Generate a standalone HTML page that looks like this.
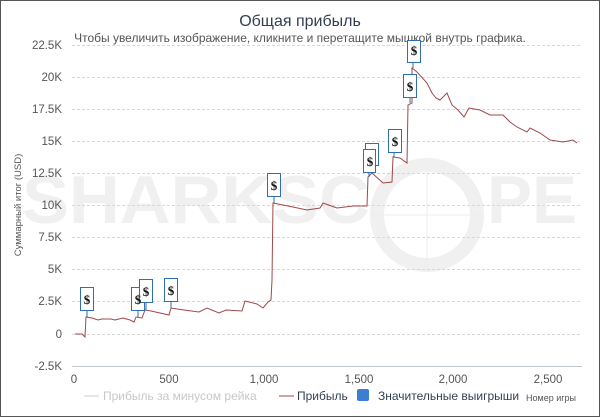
<!DOCTYPE html>
<html><head><meta charset="utf-8"><style>
html,body{margin:0;padding:0;background:#fff}
svg{display:block}
text{font-family:"Liberation Sans","DejaVu Sans",sans-serif}
</style></head><body>
<svg width="600" height="417" viewBox="0 0 600 417" xmlns="http://www.w3.org/2000/svg">
<rect x="0.5" y="0.5" width="599" height="416" fill="#fff" stroke="#555" stroke-width="1"/>
<!-- watermark -->
<g fill="#f0f0f0">
<text x="22" y="223" font-size="68" font-weight="bold" textLength="348" lengthAdjust="spacingAndGlyphs">SHARKSC</text>
<text x="487" y="223" font-size="68" font-weight="bold" textLength="90" lengthAdjust="spacingAndGlyphs">PE</text>
</g>
<circle cx="427" cy="215" r="50" fill="none" stroke="#f0f0f0" stroke-width="14"/>
<line x1="427" y1="160" x2="427" y2="270" stroke="#eee" stroke-width="1"/>
<line x1="372" y1="215" x2="482" y2="215" stroke="#eee" stroke-width="1"/>
<!-- title -->
<text x="300" y="26" font-size="16" fill="#333f50" text-anchor="middle">Общая прибыль</text>
<text x="300" y="42" font-size="12" fill="#555" text-anchor="middle">Чтобы увеличить изображение, кликните и перетащите мышкой внутрь графика.</text>
<!-- grid -->
<g stroke="#d8d8d8" stroke-dasharray="3,2" stroke-width="1">
<line x1="72" y1="45.5" x2="582" y2="45.5"/>
<line x1="72" y1="77.5" x2="582" y2="77.5"/>
<line x1="72" y1="109.5" x2="582" y2="109.5"/>
<line x1="72" y1="141.5" x2="582" y2="141.5"/>
<line x1="72" y1="173.5" x2="582" y2="173.5"/>
<line x1="72" y1="205.5" x2="582" y2="205.5"/>
<line x1="72" y1="237.5" x2="582" y2="237.5"/>
<line x1="72" y1="269.5" x2="582" y2="269.5"/>
<line x1="72" y1="301.5" x2="582" y2="301.5"/>
<line x1="72" y1="334.5" x2="582" y2="334.5"/>
</g>
<line x1="72" y1="366.5" x2="582" y2="366.5" stroke="#c0c8d0"/>
<g font-size="11.5" fill="#555" text-anchor="end">
<text x="62" y="49">22.5K</text><text x="62" y="81">20K</text><text x="62" y="113">17.5K</text>
<text x="62" y="145">15K</text><text x="62" y="177">12.5K</text><text x="62" y="209">10K</text>
<text x="62" y="241">7.5K</text><text x="62" y="273">5K</text><text x="62" y="305">2.5K</text>
<text x="62" y="338">0</text><text x="62" y="370">-2.5K</text>
</g>
<g font-size="11.5" fill="#555" text-anchor="middle">
<text x="74" y="383">0</text><text x="169" y="383">500</text><text x="264" y="383">1,000</text>
<text x="359" y="383">1,500</text><text x="453" y="383">2,000</text><text x="548" y="383">2,500</text>
</g>
<text transform="translate(21,205) rotate(-90)" font-size="9.5" fill="#555" text-anchor="middle">Суммарный итог (USD)</text>
<!-- series -->
<polyline fill="none" stroke="#a04848" stroke-width="1" points="75,334 82,334 85,337 86,317 92,318 98,320 102,319 111,319 115,320 123,318 130,320 134,322 136,317 142,318 145,310 151,311 169,315 171,308 184,310 199,312 207,308 219,313 226,310 242,311 245,301 257,304 263,308 268,302 271,300 272,280 273,203 283,205 293,207 307,210 320,208 323,203 337,208 353,206 367,206 368,177 372,173 382,182 383,183 392,182 393,157 400,158 407,163 408,105 412,103 412,68 417,72 427,83 432,93 436,98 440,100 447,93 452,105 458,110 464,117 469,108 480,110 490,115 503,115 510,122 517,127 527,132 530,128 540,133 550,140 563,142 573,140 577,143"/>
<!-- markers -->
<g fill="#fff" stroke="#2f6fb0" stroke-width="1">
<line x1="87" y1="311" x2="87" y2="317"/><rect x="80.5" y="287.5" width="13" height="23"/>
<line x1="138" y1="311" x2="138" y2="317"/><rect x="131.5" y="287.5" width="13" height="23"/>
<line x1="146" y1="303" x2="146" y2="310"/><rect x="139.5" y="279.5" width="13" height="23"/>
<line x1="171" y1="302" x2="171" y2="308"/><rect x="164.5" y="278.5" width="13" height="23"/>
<line x1="274" y1="197" x2="274" y2="203"/><rect x="267.5" y="173.5" width="13" height="23"/>
<rect x="365.5" y="143.5" width="13" height="22"/>
<line x1="369" y1="172" x2="369" y2="177"/><rect x="363.5" y="149.5" width="12" height="23"/>
<line x1="394" y1="152" x2="394" y2="157"/><rect x="388.5" y="129.5" width="13" height="23"/>
<line x1="410" y1="97" x2="410" y2="103"/><rect x="403.5" y="74.5" width="13" height="23"/>
<line x1="413" y1="62" x2="413" y2="68"/><rect x="407.5" y="40.5" width="13" height="22"/>
</g>
<g font-size="13" font-weight="bold" fill="#111" text-anchor="middle" font-family="Liberation Serif">
<text x="87" y="304" style="font-family:'Liberation Serif',serif">$</text>
<text x="138" y="304" style="font-family:'Liberation Serif',serif">$</text>
<text x="146" y="296" style="font-family:'Liberation Serif',serif">$</text>
<text x="171" y="295" style="font-family:'Liberation Serif',serif">$</text>
<text x="274" y="190" style="font-family:'Liberation Serif',serif">$</text>
<text x="370" y="166" style="font-family:'Liberation Serif',serif">$</text>
<text x="395" y="146" style="font-family:'Liberation Serif',serif">$</text>
<text x="410" y="91" style="font-family:'Liberation Serif',serif">$</text>
<text x="414" y="55" style="font-family:'Liberation Serif',serif">$</text>
</g>
<!-- legend -->
<line x1="84" y1="396" x2="99" y2="396" stroke="#ccc"/>
<text x="103" y="400" font-size="12" fill="#c8c8c8">Прибыль за минусом рейка</text>
<line x1="279" y1="396" x2="294" y2="396" stroke="#a04848"/>
<text x="297" y="400" font-size="12" fill="#333f50">Прибыль</text>
<rect x="357" y="389" width="12" height="12" rx="2" fill="#3a7fd0"/>
<text x="378" y="400" font-size="12" fill="#333f50">Значительные выигрыши</text>
<text x="526" y="401" font-size="9" fill="#555">Номер игры</text>
</svg>
</body></html>
